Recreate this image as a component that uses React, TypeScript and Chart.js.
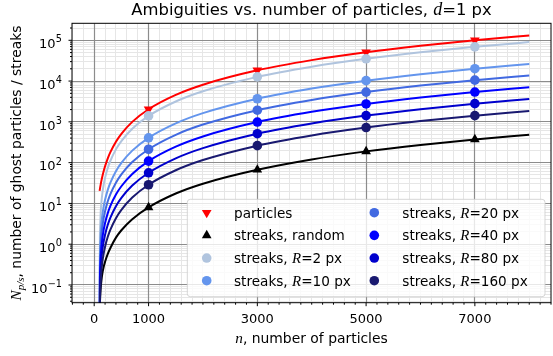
import React, { useEffect, useRef } from 'react';
import { Chart, registerables } from 'chart.js';

Chart.register(...registerables);

// ---------------- data ----------------
const nGrid = [100, 105, 110, 120, 135, 150, 175, 200, 250, 300, 400, 500, 700, 1000, 1500, 2000, 3000, 4000, 5000, 6000, 7000, 8000];

const lineParticles = [20.4, 22.5, 24.7, 29.4, 37.2, 45.9, 62.5, 81.6, 127.5, 183.6, 326, 510, 1000, 2040, 4590, 8160, 18360, 32640, 51000, 73440, 99960, 130560];
const lineRandom = [0.001, 0.025, 0.05, 0.085, 0.135, 0.19, 0.28, 0.37, 0.58, 0.82, 1.45, 2.2, 4.1, 8.0, 17.5, 30.5, 67, 120, 189, 272, 370, 484];
const lineR2 = [0.001, 1.45, 2.96, 6.2, 11.6, 17.6, 29.1, 42.3, 74, 112.8, 211.5, 338, 677, 1396, 3158, 5626, 12676, 22546, 35236, 50746, 69076, 90226];
const lineR10 = [0.001, 0.42, 0.861, 1.8, 3.37, 5.13, 8.46, 12.3, 21.5, 32.8, 61.5, 98.4, 196.8, 405.9, 918.4, 1636, 3686, 6556, 10246, 14756, 20086, 26236];
const lineR20 = [0.001, 0.22, 0.452, 0.946, 1.77, 2.69, 4.43, 6.45, 11.3, 17.2, 32.25, 51.6, 103.2, 212.9, 481.6, 857.9, 1933, 3438, 5373, 7738, 10533, 13758];
const lineR40 = [0.001, 0.113, 0.231, 0.484, 0.905, 1.375, 2.27, 3.3, 5.78, 8.8, 16.5, 26.4, 52.8, 108.9, 246.4, 438.9, 988.9, 1759, 2749, 3959, 5389, 7039];
const lineR80 = [0.001, 0.058, 0.12, 0.25, 0.469, 0.713, 1.18, 1.71, 2.99, 4.56, 8.55, 13.7, 27.4, 56.4, 127.7, 227.4, 512.4, 911.4, 1424, 2051, 2792, 3647];
const lineR160 = [0.001, 0.0297, 0.0609, 0.128, 0.239, 0.363, 0.598, 0.87, 1.52, 2.32, 4.35, 6.96, 13.9, 28.7, 65, 115.7, 260.7, 463.7, 724.7, 1044, 1421, 1856];

const markerN = [1000, 3000, 5000, 7000];
const markParticles = [2040, 18400, 51000, 100000];
const markRandom = [8.0, 67, 189, 370];
const markR2 = [1400, 12700, 35200, 69100];
const markR10 = [406, 3690, 10250, 20090];
const markR20 = [213, 1930, 5370, 10530];
const markR40 = [109, 989, 2750, 5390];
const markR80 = [56.4, 512, 1424, 2792];
const markR160 = [28.7, 261, 725, 1421];

const seriesLabels = ['particles', 'streaks, random', 'streaks, R=2 px', 'streaks, R=10 px', 'streaks, R=20 px', 'streaks, R=40 px', 'streaks, R=80 px', 'streaks, R=160 px'];
const seriesColors = ['#ff0000', '#000000', '#b0c4de', '#6495ed', '#4169e1', '#0000ff', '#0000cd', '#191970'];
const seriesMarkers = ['triangle', 'triangle', 'circle', 'circle', 'circle', 'circle', 'circle', 'circle'];
const seriesMarkerRotation = [180, 0, 0, 0, 0, 0, 0, 0];

const xMajorTicks = [0, 1000, 3000, 5000, 7000];
const yDecadeExponents = [-1, 0, 1, 2, 3, 4, 5];

const titleText = 'Ambiguities vs. number of particles, ';
const titleMath = 'd';
const titleTail = '=1 px';
const xLabelMath = 'n';
const xLabelText = ', number of particles';
const yLabelMath = 'N';
const yLabelSub = 'p/s';
const yLabelText = ', number of ghost particles / streaks';

const lineSeries = [lineParticles, lineRandom, lineR2, lineR10, lineR20, lineR40, lineR80, lineR160];
const markerSeries = [markParticles, markRandom, markR2, markR10, markR20, markR40, markR80, markR160];

// ---------------- helpers ----------------
const SANS = '"DejaVu Sans", sans-serif';
const SERIF_IT = '"Liberation Serif", "DejaVu Serif", serif';

type Part = { t: string; it?: boolean; sub?: boolean };

function fontFor(p: Part, size: number) {
  const s = p.sub ? size * 0.72 : size;
  if (p.it) return `italic ${(s * 1.1).toFixed(2)}px ${SERIF_IT}`;
  return `${s.toFixed(2)}px ${SANS}`;
}

function drawParts(ctx: CanvasRenderingContext2D, parts: Part[], x: number, y: number, size: number, align: 'left' | 'center') {
  ctx.textAlign = 'left';
  ctx.textBaseline = 'alphabetic';
  let total = 0;
  const widths = parts.map((p) => {
    ctx.font = fontFor(p, size);
    const w = ctx.measureText(p.t).width;
    total += w;
    return w;
  });
  let cx = align === 'center' ? x - total / 2 : x;
  parts.forEach((p, i) => {
    ctx.font = fontFor(p, size);
    ctx.fillText(p.t, cx, y + (p.sub ? size * 0.22 : 0));
    cx += widths[i];
  });
}

function labelParts(label: string): Part[] {
  const idx = label.indexOf('R=');
  if (idx < 0) return [{ t: label }];
  return [{ t: label.slice(0, idx) }, { t: 'R', it: true }, { t: label.slice(idx + 1) }];
}

function drawMarker(ctx: CanvasRenderingContext2D, style: string, rot: number, color: string, x: number, y: number) {
  ctx.save();
  ctx.fillStyle = color;
  ctx.beginPath();
  if (style === 'circle') {
    ctx.arc(x, y, 4.8, 0, Math.PI * 2);
  } else {
    const r = 5.6;
    const base = (rot * Math.PI) / 180;
    for (let k = 0; k < 3; k++) {
      const a = base + (k * 2 * Math.PI) / 3;
      const px = x + Math.sin(a) * r;
      const py = y - Math.cos(a) * r;
      if (k === 0) ctx.moveTo(px, py);
      else ctx.lineTo(px, py);
    }
    ctx.closePath();
  }
  ctx.fill();
  ctx.restore();
}

const isDecade = (v: number) => Math.abs(Math.log10(v) - Math.round(Math.log10(v))) < 1e-9;

const MAJOR_GRID = '#8c8c8c';
const MINOR_GRID = '#e6e6e6';

const gridPlugin = {
  id: 'gridDraw',
  beforeDatasetsDraw(chart: any) {
    const ctx: CanvasRenderingContext2D = chart.ctx;
    const a = chart.chartArea;
    const xs = chart.scales.x;
    const ys = chart.scales.y;
    ctx.save();
    ctx.beginPath();
    ctx.rect(a.left, a.top, a.right - a.left, a.bottom - a.top);
    ctx.clip();
    const pass = (major: boolean) => {
      ctx.beginPath();
      ctx.strokeStyle = major ? MAJOR_GRID : MINOR_GRID;
      ctx.lineWidth = major ? 1.2 : 1;
      for (const t of xs.ticks) {
        if (xMajorTicks.includes(t.value) !== major) continue;
        const p = Math.round(xs.getPixelForValue(t.value) - 0.5) + 0.5;
        ctx.moveTo(p, a.top);
        ctx.lineTo(p, a.bottom);
      }
      for (const t of ys.ticks) {
        if (isDecade(t.value) !== major) continue;
        const p = Math.round(ys.getPixelForValue(t.value) - 0.5) + 0.5;
        ctx.moveTo(a.left, p);
        ctx.lineTo(a.right, p);
      }
      ctx.stroke();
    };
    pass(false);
    pass(true);
    ctx.restore();
  },
};

const decorPlugin = {
  id: 'decor',
  afterDatasetsDraw(chart: any) {
    const ctx: CanvasRenderingContext2D = chart.ctx;
    const a = chart.chartArea;
    const xs = chart.scales.x;
    const ys = chart.scales.y;
    ctx.save();
    // spines
    ctx.strokeStyle = '#000';
    ctx.lineWidth = 1;
    ctx.strokeRect(a.left, a.top, a.right - a.left, a.bottom - a.top);
    // tick marks
    ctx.beginPath();
    for (const t of xs.ticks) {
      const px = xs.getPixelForValue(t.value);
      if (px < a.left - 0.5 || px > a.right + 0.5) continue;
      const len = xMajorTicks.includes(t.value) ? 3.5 : 2;
      ctx.moveTo(px, a.bottom);
      ctx.lineTo(px, a.bottom + len);
    }
    for (const t of ys.ticks) {
      const py = ys.getPixelForValue(t.value);
      if (py < a.top - 0.5 || py > a.bottom + 0.5) continue;
      const len = isDecade(t.value) ? 3.5 : 2;
      ctx.moveTo(a.left, py);
      ctx.lineTo(a.left - len, py);
    }
    ctx.stroke();

    // y tick labels (10^e)
    ctx.fillStyle = '#000';
    ctx.textAlign = 'left';
    ctx.textBaseline = 'alphabetic';
    for (const e of yDecadeExponents) {
      const py = ys.getPixelForValue(Math.pow(10, e));
      const expStr = e < 0 ? '\u2212' + Math.abs(e) : String(e);
      ctx.font = `9.7px ${SANS}`;
      const we = ctx.measureText(expStr).width;
      ctx.font = `13px ${SANS}`;
      const wb = ctx.measureText('10').width;
      const right = 62;
      ctx.fillText('10', right - we - wb - 0.3, py + 7.8);
      ctx.font = `9.7px ${SANS}`;
      ctx.fillText(expStr, right - we, py + 2.0);
    }

    // legend
    const lx = 187.3, ly = 199.3, lw = 357.7, lh = 97.4, rr = 3;
    ctx.beginPath();
    ctx.moveTo(lx + rr, ly);
    ctx.lineTo(lx + lw - rr, ly);
    ctx.quadraticCurveTo(lx + lw, ly, lx + lw, ly + rr);
    ctx.lineTo(lx + lw, ly + lh - rr);
    ctx.quadraticCurveTo(lx + lw, ly + lh, lx + lw - rr, ly + lh);
    ctx.lineTo(lx + rr, ly + lh);
    ctx.quadraticCurveTo(lx, ly + lh, lx, ly + lh - rr);
    ctx.lineTo(lx, ly + rr);
    ctx.quadraticCurveTo(lx, ly, lx + rr, ly);
    ctx.closePath();
    ctx.fillStyle = 'rgba(255,255,255,0.8)';
    ctx.fill();
    ctx.strokeStyle = 'rgba(204,204,204,0.8)';
    ctx.lineWidth = 1;
    ctx.stroke();

    const markerX = [206.7, 374.3];
    const textX = [234, 402.3];
    seriesLabels.forEach((lab, i) => {
      const col = Math.floor(i / 4);
      const row = i % 4;
      const cy = 212.7 + row * 22.67;
      drawMarker(ctx, seriesMarkers[i], seriesMarkerRotation[i], seriesColors[i], markerX[col], cy);
      ctx.fillStyle = '#000';
      drawParts(ctx, labelParts(lab), textX[col], cy + 4.8, 13.6, 'left');
    });

    // title
    ctx.fillStyle = '#000';
    const cxp = (a.left + a.right) / 2;
    drawParts(ctx, [{ t: titleText }, { t: titleMath, it: true }, { t: titleTail }], cxp, 15.3, 16.4, 'center');
    // x label
    drawParts(ctx, [{ t: xLabelMath, it: true }, { t: xLabelText }], cxp, 343, 13.9, 'center');
    // y label
    ctx.save();
    ctx.translate(20.5, (a.top + a.bottom) / 2);
    ctx.rotate(-Math.PI / 2);
    drawParts(ctx, [{ t: yLabelMath, it: true }, { t: yLabelSub, it: true, sub: true }, { t: yLabelText }], 0, 0, 13.9, 'center');
    ctx.restore();

    ctx.restore();
  },
};

export default function App() {
  const canvasRef = useRef<HTMLCanvasElement | null>(null);

  useEffect(() => {
    const canvas = canvasRef.current;
    if (!canvas) return;

    const markerDatasets = markerSeries
      .map((vals, i) => ({
        label: seriesLabels[i],
        data: markerN.map((n, j) => ({ x: n, y: vals[j] })),
        showLine: false,
        pointStyle: seriesMarkers[i],
        pointRotation: seriesMarkerRotation[i],
        pointRadius: seriesMarkers[i] === 'circle' ? 4.8 : 5.6,
        pointBackgroundColor: seriesColors[i],
        pointBorderColor: seriesColors[i],
        pointBorderWidth: 0,
        borderColor: seriesColors[i],
        backgroundColor: seriesColors[i],
      }))
      .reverse();

    const lineDatasets = lineSeries
      .map((vals, i) => ({
        label: seriesLabels[i] + ' (curve)',
        data: nGrid.map((n, j) => ({ x: n, y: vals[j] })),
        borderColor: seriesColors[i],
        backgroundColor: seriesColors[i],
        borderWidth: 2,
        pointRadius: 0,
        fill: false,
        cubicInterpolationMode: 'monotone' as const,
      }))
      .reverse();

    const chart = new Chart(canvas, {
      type: 'line',
      data: { datasets: [...markerDatasets, ...lineDatasets] as any },
      options: {
        animation: false,
        responsive: false,
        events: [],
        layout: { padding: { top: 23.3, right: 6.5, left: 0, bottom: 0 } },
        plugins: {
          legend: { display: false },
          title: { display: false },
          tooltip: { enabled: false },
        },
        scales: {
          x: {
            type: 'linear',
            min: -408,
            max: 8400,
            bounds: 'data',
            afterBuildTicks: (scale: any) => {
              const t: any[] = [];
              for (let v = -400; v <= 8400; v += 200) t.push({ value: v, major: xMajorTicks.includes(v) });
              scale.ticks = t;
            },
            afterFit: (scale: any) => {
              scale.height = 53.3;
            },
            grid: { display: false, drawTicks: false },
            border: { display: false },
            ticks: {
              autoSkip: false,
              maxRotation: 0,
              minRotation: 0,
              padding: 9,
              color: '#000',
              font: { family: '"DejaVu Sans", sans-serif', size: 13 },
              callback: (v: any) => (xMajorTicks.includes(Number(v)) ? String(v) : ''),
            },
          },
          y: {
            type: 'logarithmic',
            min: 0.0368,
            max: 261000,
            bounds: 'data',
            afterBuildTicks: (scale: any) => {
              const t: any[] = [];
              for (let e = -2; e <= 5; e++) {
                for (let m = 1; m <= 9; m++) {
                  const v = m * Math.pow(10, e);
                  if (v >= 0.0368 && v <= 261000) t.push({ value: v, major: m === 1 });
                }
              }
              scale.ticks = t;
            },
            afterFit: (scale: any) => {
              scale.width = 72;
            },
            grid: { display: false, drawTicks: false },
            border: { display: false },
            ticks: { display: false },
          },
        },
      },
      plugins: [gridPlugin, decorPlugin],
    });

    return () => {
      chart.destroy();
    };
  }, []);

  return (
    <div style={{ position: 'fixed', left: 0, top: 0, width: 553, height: 356, overflow: 'hidden', background: '#fff' }}>
      <canvas ref={canvasRef} width={560} height={356} style={{ display: 'block', width: 560, height: 356 }} />
    </div>
  );
}
